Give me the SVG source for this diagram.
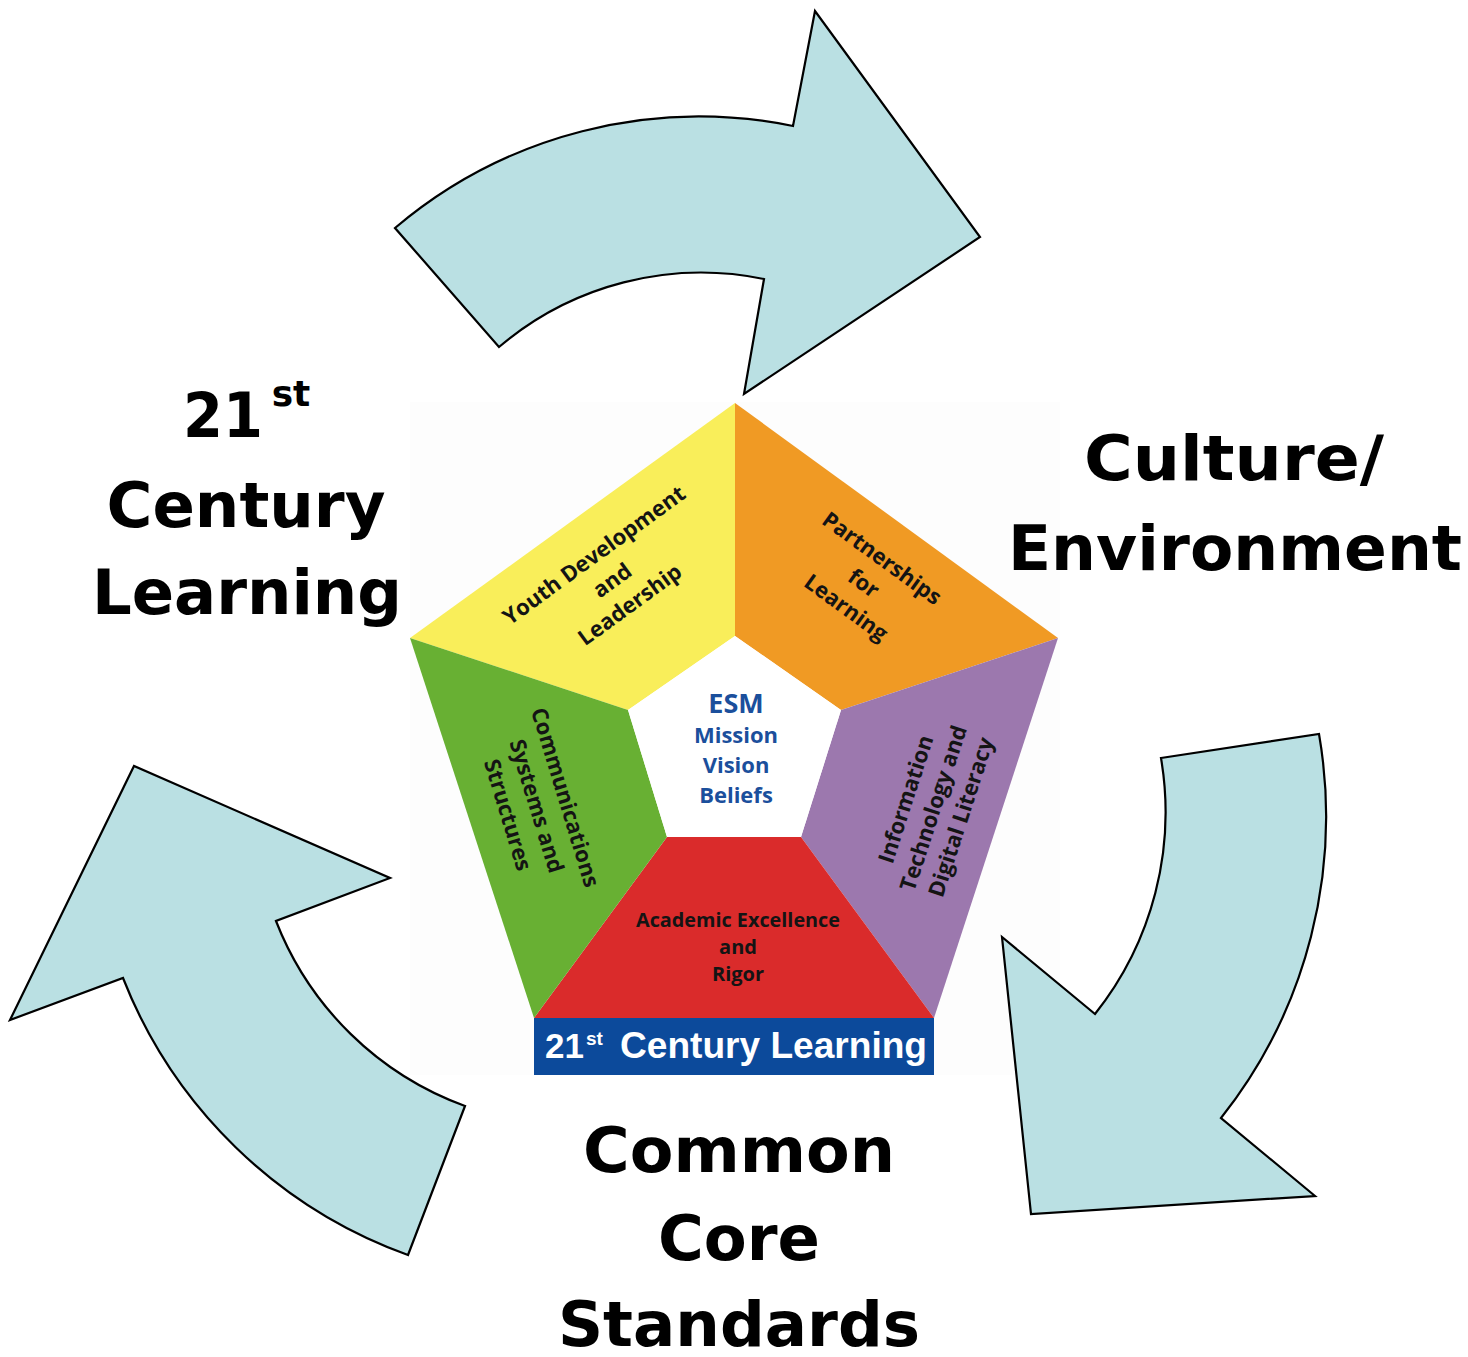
<svg xmlns="http://www.w3.org/2000/svg" width="1468" height="1357" viewBox="0 0 1468 1357">
<style>
.arrow{fill:#BAE0E3;stroke:#000;stroke-width:2.2;stroke-linejoin:miter}
.big{font-family:"DejaVu Sans",Verdana,sans-serif;font-weight:bold;font-size:63px;fill:#000;text-anchor:middle}
.seg{font-family:"Open Sans","Noto Sans",sans-serif;font-weight:700;font-size:22px;fill:#141414;text-anchor:middle}
.core{font-family:"Open Sans","Noto Sans",sans-serif;font-weight:700;fill:#1B4F9C;text-anchor:middle}
.bar{font-family:"Liberation Sans",Arial,sans-serif;font-weight:bold;fill:#fff}
</style>
<rect width="1468" height="1357" fill="#fff"/>
<rect x="410" y="402" width="650" height="673" fill="#FDFDFD"/>

<g id="connectors">
  <path id="arrow-top" class="arrow" d="M395,228 A470,470 0 0 1 793,126 L815,11 L980,237 L744,394 L764,279 A312,312 0 0 0 499,347 Z"/>
  <path id="arrow-right" class="arrow" d="M1161,758 L1319,734 A485,485 0 0 1 1221,1118 L1315,1196 L1031,1214 L1002,937 L1095,1014 A324,324 0 0 0 1161,758 Z"/>
  <path id="arrow-left" class="arrow" d="M465,1106 L408,1255 A482,482 0 0 1 123,978 L10,1020 L134,766 L390,878 L276,921 A321,321 0 0 0 465,1106 Z"/>
</g>

<g id="seg-youth">
  <polygon points="735,403 735,636 628,710 410,638" fill="#F9EE5A"/>
  <g transform="translate(612,580) rotate(-36)">
    <text class="seg" x="0" y="-23">Youth Development</text>
    <text class="seg" x="0" y="8">and</text>
    <text class="seg" x="0" y="38">Leadership</text>
  </g>
</g>
<g id="seg-partnerships">
  <polygon points="735,403 1058,638 841,710 735,636" fill="#F09A24"/>
  <g transform="translate(864,583) rotate(36)">
    <text class="seg" x="0" y="-23">Partnerships</text>
    <text class="seg" x="0" y="8">for</text>
    <text class="seg" x="0" y="38">Learning</text>
  </g>
</g>
<g id="seg-infotech">
  <polygon points="1058,638 934,1018 801,837 841,710" fill="#9C78AE"/>
  <g transform="translate(933,808) rotate(-72)">
    <text class="seg" x="0" y="-21">Information</text>
    <text class="seg" x="0" y="8">Technology and</text>
    <text class="seg" x="0" y="37">Digital Literacy</text>
  </g>
</g>
<g id="seg-academic">
  <polygon points="667,837 801,837 934,1018 534,1018" fill="#DA2B2B"/>
  <text class="seg" x="738" y="927" style="font-size:20px" textLength="204" lengthAdjust="spacingAndGlyphs">Academic Excellence</text>
  <text class="seg" x="738" y="954" style="font-size:20px">and</text>
  <text class="seg" x="738" y="981" style="font-size:20px">Rigor</text>
</g>
<g id="seg-communications">
  <polygon points="410,638 628,710 667,837 534,1018" fill="#68B033"/>
  <g transform="translate(537,806) rotate(73)">
    <text class="seg" x="0" y="-22">Communications</text>
    <text class="seg" x="0" y="8">Systems and</text>
    <text class="seg" x="0" y="38">Structures</text>
  </g>
</g>
<g id="core">
  <polygon points="735,636 841,710 801,837 667,837 628,710" fill="#FFFFFF"/>
  <text class="core" x="736" y="713" style="font-size:27px">ESM</text>
  <text class="core" x="736" y="743" style="font-size:22px">Mission</text>
  <text class="core" x="736" y="773" style="font-size:22px">Vision</text>
  <text class="core" x="736" y="803" style="font-size:22px">Beliefs</text>
</g>
<g id="bar">
  <rect x="534" y="1018" width="400" height="57" fill="#0C4A9B"/>
  <text class="bar" x="545" y="1058" style="font-size:35px">21</text>
  <text class="bar" x="586" y="1045" style="font-size:19px">st</text>
  <text class="bar" x="620" y="1058" style="font-size:36px" textLength="307" lengthAdjust="spacingAndGlyphs">Century Learning</text>
</g>

<g id="label-21st">
  <text class="big" x="223" y="437" textLength="80" lengthAdjust="spacingAndGlyphs">21</text>
  <text class="big" x="291" y="406" style="font-size:36px">st</text>
  <text class="big" x="246" y="527" textLength="279" lengthAdjust="spacingAndGlyphs">Century</text>
  <text class="big" x="247" y="614" textLength="310" lengthAdjust="spacingAndGlyphs">Learning</text>
</g>
<g id="label-culture">
  <text class="big" x="1234" y="480" textLength="300" lengthAdjust="spacingAndGlyphs">Culture/</text>
  <text class="big" x="1235" y="570" textLength="454" lengthAdjust="spacingAndGlyphs">Environment</text>
</g>
<g id="label-common">
  <text class="big" x="739" y="1172" textLength="312" lengthAdjust="spacingAndGlyphs">Common</text>
  <text class="big" x="739" y="1260" textLength="162" lengthAdjust="spacingAndGlyphs">Core</text>
  <text class="big" x="739" y="1346" textLength="362" lengthAdjust="spacingAndGlyphs">Standards</text>
</g>
</svg>
